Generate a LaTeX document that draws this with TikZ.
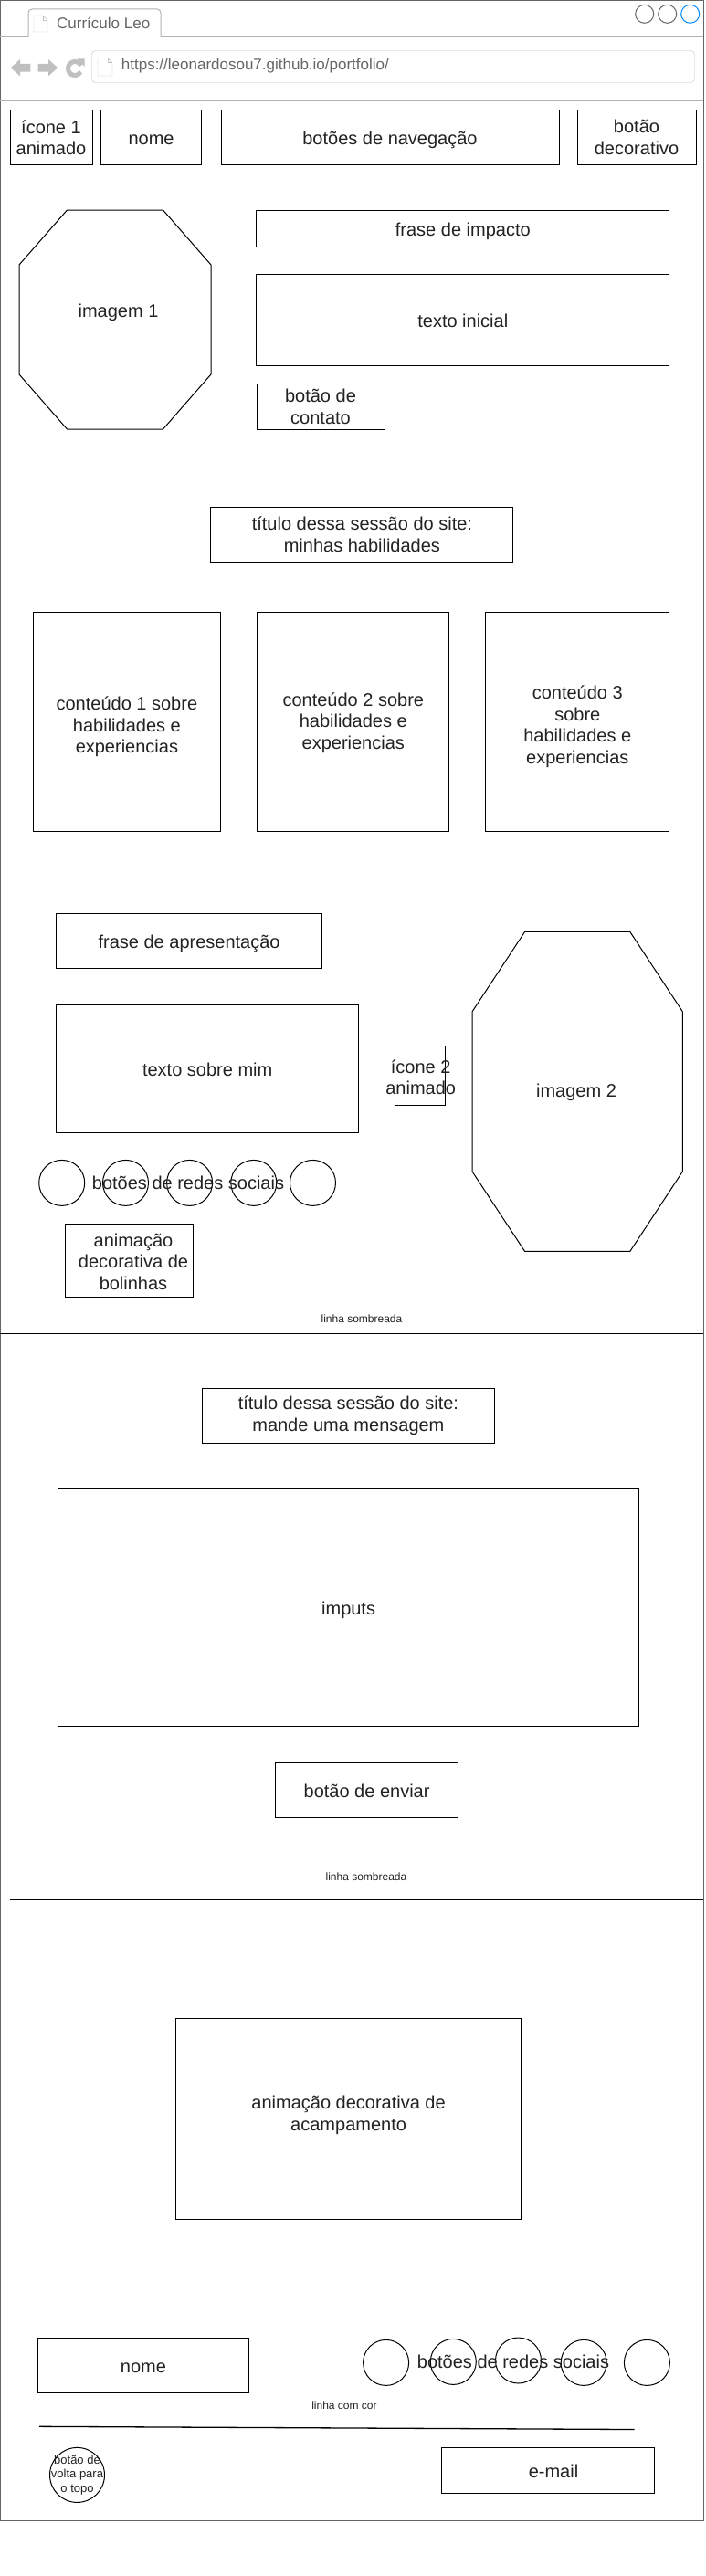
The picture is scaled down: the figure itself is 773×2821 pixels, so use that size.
\documentclass[tikz,border=0pt]{standalone}
\usepackage{fontspec}
\setmainfont{Liberation Sans}
\definecolor{txtcol}{HTML}{222222}
\definecolor{framecol}{HTML}{666666}
\definecolor{chromecol}{HTML}{B3B3B3}
\definecolor{iconcol}{HTML}{C0C0C0}
\definecolor{chrometxt}{HTML}{666666}
\definecolor{closecol}{HTML}{008CFF}
\begin{document}
\begin{tikzpicture}[x=1pt,y=-1pt,
  box/.style={draw=black, line width=1pt, inner sep=0pt, outer sep=0pt, align=center, text=txtcol, font=\fontsize{20}{23.5}\selectfont},
  oneline/.style={text height=18.1pt, text depth=2.5pt},
  txtlabel/.style={inner sep=0pt, align=center, text=txtcol, font=\fontsize{20}{23.5}\selectfont},
  small/.style={inner sep=0pt, align=center, text=txtcol, font=\fontsize{12}{14}\selectfont},
  ball/.style={draw=black, line width=1pt, circle, minimum size=50pt, inner sep=0pt},
  winbtn/.style={draw=framecol, line width=1pt, circle, minimum size=20pt, inner sep=0pt},
  chrome/.style={draw=chromecol, line width=1pt}
]
\useasboundingbox (0,0) rectangle (773,2821);
\fill[white] (0,0) rectangle (773,2821);

% browser window
\draw[draw=framecol, line width=1pt] (0.5,0.5) rectangle (770,2760);
\draw[chrome] (0,40) -- (31,40);
\draw[chrome, rounded corners=4pt] (31,40) -- (31,10) -- (176,10) -- (176,40);
\draw[chrome] (176,40) -- (770,40);
\draw[draw=iconcol, fill=white] (37,17) -- (47,17) -- (52,22) -- (52,35) -- (37,35) -- cycle;
\draw[draw=iconcol] (47,17) -- (47,22) -- (52,22);
\node[anchor=west, inner sep=0pt, text=chrometxt, font=\fontsize{17}{20}\selectfont] (tab) at (62,25) {Currículo Leo};

\node[winbtn] (min) at (705.7,15.3) {};
\node[winbtn] (max) at (730.7,15.3) {};
\node[winbtn, draw=closecol] (close) at (755.7,15.3) {};

% navigation bar
\fill[iconcol] (11.7,74.2) -- (22,65) -- (22,70) -- (33.3,70) -- (33.3,78.5) -- (22,78.5) -- (22,83.3) -- cycle;
\fill[iconcol] (63.3,74.2) -- (53,65) -- (53,70) -- (41.7,70) -- (41.7,78.5) -- (53,78.5) -- (53,83.3) -- cycle;
\draw[iconcol, line width=5pt] (82,75) ++(-25:7.5) arc[start angle=-25, end angle=-330, radius=7.5];
\fill[iconcol] (84.5,64.5) -- (92.5,64.5) -- (92.5,73) -- cycle;
\draw[draw=iconcol, rounded corners=4pt] (100.5,55.5) rectangle (760.5,90.5);
\draw[draw=iconcol, fill=white] (107,63.5) -- (118,63.5) -- (123,68.5) -- (123,83) -- (107,83) -- cycle;
\draw[draw=iconcol] (118,63.5) -- (118,68.5) -- (123,68.5);
\node[anchor=west, inner sep=0pt, text=chrometxt, font=\fontsize{17}{20}\selectfont] (url) at (132.7,72.5) {https://leonardosou7.github.io/portfolio/};
\draw[chrome] (0,110.5) -- (770,110.5);

% header
\node[box, minimum width=90pt, minimum height=60pt] (icone1) at (56,150.5) {ícone 1\\animado};
\node[box, oneline, minimum width=110pt, minimum height=60pt] (nome1) at (165.6,150.5) {nome};
\node[box, oneline, minimum width=370pt, minimum height=60pt] (navegacao) at (427,150.5) {botões de navegação};
\node[box, minimum width=130pt, minimum height=60pt] (decorativo) at (697,150.5) {botão\\decorativo};

% inicio
\draw[line width=1pt] (73.5,230) -- (178.5,230) -- (231,290) -- (231,410) -- (178.5,470) -- (73.5,470) -- (21,410) -- (21,290) -- cycle;
\node[txtlabel] (imagem1) at (129.5,342) {imagem 1};
\node[box, oneline, minimum width=452pt, minimum height=40pt] (impacto) at (506.8,250.3) {frase de impacto};
\node[box, oneline, minimum width=452pt, minimum height=100pt] (inicial) at (506.8,350.3) {texto inicial};
\node[box, minimum width=140pt, minimum height=50pt] (contato) at (351,445.3) {botão de\\contato};

% habilidades
\node[box, minimum width=331pt, minimum height=60pt] (titulo1) at (396.4,585.3) {título dessa sessão do site:\\minhas habilidades};
\node[box, minimum width=204.6pt, minimum height=240pt] (conteudo1) at (138.9,790.3) {};
\node[txtlabel] (conteudo1txt) at (138.9,796) {conteúdo 1 sobre\\habilidades e\\experiencias};
\node[box, minimum width=210pt, minimum height=240pt] (conteudo2) at (386.8,790.3) {};
\node[txtlabel] (conteudo2txt) at (386.8,791.5) {conteúdo 2 sobre\\habilidades e\\experiencias};
\node[box, minimum width=200.7pt, minimum height=240pt] (conteudo3) at (632.3,790.3) {};
\node[txtlabel] (conteudo3txt) at (632.3,795.5) {conteúdo 3\\sobre\\habilidades e\\experiencias};

% sobre mim
\node[box, oneline, minimum width=290.6pt, minimum height=60pt] (apresentacao) at (207.1,1030.4) {frase de apresentação};
\node[box, oneline, minimum width=330.7pt, minimum height=140pt] (sobremim) at (227.2,1170.4) {texto sobre mim};
\node[box, minimum width=55.4pt, minimum height=65pt] (icone2) at (460.2,1177.9) {};
\node[txtlabel] (icone2txt) at (460.7,1179.7) {ícone 2\\animado};
\draw[line width=1pt] (574.6,1020.4) -- (689.8,1020.4) -- (747.4,1107.9) -- (747.4,1282.9) -- (689.8,1370.4) -- (574.6,1370.4) -- (517,1282.9) -- (517,1107.9) -- cycle;
\node[txtlabel] (imagem2) at (631,1196) {imagem 2};
\node[ball] (rede1) at (67.7,1295.4) {};
\node[ball] (rede2) at (137.5,1295.4) {};
\node[ball] (rede3) at (207.6,1295.4) {};
\node[ball] (rede4) at (277.8,1295.4) {};
\node[ball] (rede5) at (342.5,1295.4) {};
\node[txtlabel] (redes1) at (206,1295) {botões de redes sociais};
\node[box, minimum width=140.3pt, minimum height=80pt] (bolinhas) at (141.8,1380.4) {};
\node[txtlabel] (bolinhastxt) at (146,1381.7) {animação\\decorativa de\\bolinhas};
\node[small] (sombra1) at (396,1444.6) {linha sombreada};
\draw[line width=1pt] (0,1460.4) -- (770,1460.4);

% mensagem
\node[box, minimum width=320.8pt, minimum height=60pt] (titulo2) at (381.4,1550.4) {título dessa sessão do site:\\mande uma mensagem};
\node[box, oneline, minimum width=635.7pt, minimum height=260pt] (imputs) at (381.6,1760.2) {imputs};
\node[box, oneline, minimum width=200.2pt, minimum height=60pt] (enviar) at (401.6,1960.2) {botão de enviar};
\node[small] (sombra2) at (401,2054.7) {linha sombreada};
\draw[line width=1pt] (11.4,2080.4) -- (770,2080.4);

% rodape
\node[box, minimum width=378.7pt, minimum height=220pt] (acampamento) at (381.6,2320.2) {};
\node[txtlabel] (acampamentotxt) at (381.6,2316.5) {animação decorativa de\\acampamento};
\node[box, oneline, minimum width=230.9pt, minimum height=60pt] (nome2) at (157,2590.4) {nome};
\node[ball] (rede6) at (422.6,2587.4) {};
\node[ball] (rede7) at (496.3,2586.4) {};
\node[ball] (rede8) at (567.5,2585) {};
\node[ball] (rede9) at (639.2,2587.4) {};
\node[ball] (rede10) at (708.4,2587.4) {};
\node[txtlabel] (redes2) at (562,2586.4) {botões de redes sociais};
\node[small] (comcor) at (377,2634.3) {linha com cor};
\draw[line width=1.3pt] (43,2657.3) -- (694.5,2660.5);
\node[draw=black, line width=1pt, circle, minimum size=60pt, inner sep=0pt] (topo) at (84.5,2710.4) {};
\node[inner sep=0pt, align=center, text=txtcol, font=\fontsize{13}{15.6}\selectfont] (topotxt) at (84.5,2710.3) {botão de\\volta para\\o topo};
\node[box, minimum width=233pt, minimum height=50pt] (email) at (599.5,2705.2) {};
\node[txtlabel] (emailtxt) at (606,2706) {e-mail};
\end{tikzpicture}
\end{document}
